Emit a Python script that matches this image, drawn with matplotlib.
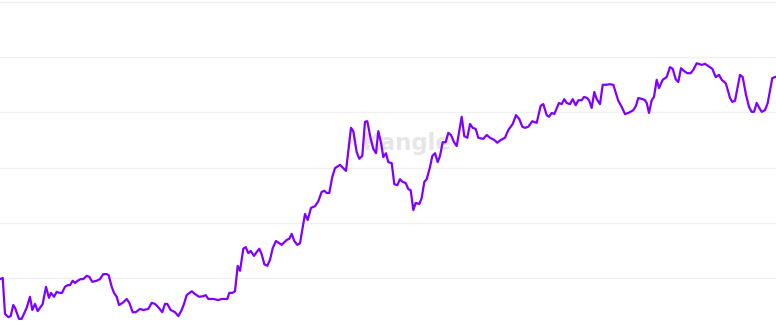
import matplotlib
matplotlib.use("Agg")
import matplotlib.pyplot as plt

# x positions (time axis, arbitrary units) and values
t = [0, 2.7, 5, 8.3, 10.7, 13.3, 15, 19, 21.7, 26.7, 30, 32.3, 35, 37.7, 42.7, 46, 49, 51, 54, 56.7,
     59.3, 62, 65, 67.7, 70, 72.7, 75, 77.7, 80.7, 83.3, 86.7, 89.3, 92.3, 96.7, 100, 103.3, 106.7, 108.7,
     111.7, 114, 116.7, 119, 122.7, 126.7, 129.3, 132.7, 135.7, 140, 143.3, 148.3, 151.7, 155, 158.3,
     162.3, 165, 167.3, 170.7, 175, 178.3, 181.7, 184, 186.7, 191.7, 195, 199, 203.3, 205.7, 208.3,
     213.3, 218.3, 221.7, 227.3, 229.3, 232.3, 235, 237.7, 240, 243.3, 245.7, 248.3, 250.7, 254, 256.7,
     259.3, 261.7, 264.3, 267.3, 270, 272.7, 276, 279.3, 281.7, 286.7, 289.3, 291.7, 294.3, 297.3, 300,
     305, 307.7, 311, 315, 318.3, 321.7, 324.3, 326.7, 329.3, 332.3, 335, 338.3, 340, 343.3, 346, 351,
     353.3, 356.7, 359.3, 362.3, 365, 367.3, 370.7, 373.3, 376, 378.3, 381, 383.3, 386, 388.3, 391.7,
     394.3, 397.3, 400, 402.7, 405.7, 408.3, 410.7, 413.3, 415.7, 419.3, 421.7, 424.3, 426.7, 430, 432.3,
     435, 437.7, 440, 442.7, 445.7, 448.3, 451, 454, 456.7, 461.7, 464.3, 467.3, 470, 472.7, 475.7, 478.3,
     483.3, 486.7, 490, 494.3, 497.3, 500.7, 505, 508.3, 512.7, 516, 519.3, 522.3, 525, 528.3, 532.3,
     536.7, 540.7, 543.3, 546.7, 549, 551.7, 554.3, 559, 561.7, 564.3, 566.7, 570, 572.7, 575.7, 578.3,
     581.7, 584, 587.3, 589.3, 591.7, 594.3, 596.7, 600, 602.7, 606, 610, 613.3, 618.3, 621.7, 625, 628.3,
     633.3, 636, 638.3, 642.7, 645, 646.7, 649, 651.7, 654, 656.7, 659, 662.7, 666.7, 670, 672.7, 675.7,
     678.3, 681, 684, 687.3, 690.7, 693.3, 696.7, 701.7, 705, 708.3, 712.3, 715.7, 719, 721.7, 725.7,
     727.7, 730, 732.3, 735, 740, 742.7, 746, 749, 751.7, 754, 756.7, 759.3, 761.7, 765, 767.7, 772.3, 775]

values = [98, 100, 35, 29, 31, 51, 46, 26, 26, 46, 66, 42, 53, 40, 53, 84, 64, 73, 66, 75,
          73, 73, 84, 87, 87, 95, 91, 95, 98, 98, 104, 102, 93, 95, 98, 107, 107, 105,
          84, 73, 66, 51, 55, 62, 55, 38, 38, 44, 42, 44, 55, 53, 47,
          38, 53, 53, 42, 38, 31, 42, 53, 69, 76, 71, 66, 67, 69, 62,
          62, 60, 62, 62, 73, 73, 76, 122, 113, 153, 156, 145, 149, 140, 147,
          153, 143, 125, 122, 133, 154, 167, 163, 160, 169, 171, 180, 167, 160, 163,
          216, 205, 227, 230, 239, 256, 258, 254, 254, 283, 299, 303, 305, 299, 294, 372,
          366, 328, 316, 321, 383, 384, 352, 334, 326, 366, 345, 319, 326, 310, 308,
          270, 268, 279, 274, 272, 261, 259, 223, 236, 234, 245, 274, 279, 301, 321,
          326, 310, 321, 346, 346, 363, 359, 346, 339, 392, 357, 354, 379, 372, 370, 354,
          352, 359, 354, 350, 345, 350, 354, 368, 379, 395, 388, 374, 372, 374, 384,
          381, 412, 415, 395, 392, 399, 397, 417, 415, 424, 417, 415, 424, 413, 422,
          422, 428, 426, 421, 408, 437, 424, 415, 450, 450, 451, 450, 421, 410, 397, 399,
          404, 412, 426, 424, 422, 417, 399, 422, 428, 459, 444, 459, 464, 482, 479, 460,
          455, 480, 475, 471, 471, 477, 489, 486, 488, 484, 479, 464, 468, 459, 453,
          441, 426, 419, 421, 468, 464, 432, 410, 401, 401, 417, 408, 401, 404, 417, 462, 464]

grid_levels = [100, 200, 300, 400, 500, 600]
watermark = "Kangle"

fig = plt.figure(figsize=(7.76, 3.27), dpi=100)
ax = fig.add_axes([0, 0, 1, 1])
ax.set_xlim(0, 776)
ax.set_ylim(11.2, 603.6)

for g in grid_levels:
    ax.axhline(g, color="#f0f0f3", lw=1.0, zorder=0)

ax.plot(t, values, color="#8000ff", lw=1.6, solid_joinstyle="round", zorder=3)

# watermark (logo + name), placed in axes fraction
ax.text(0.4525, 0.561, "\u2715", transform=ax.transAxes, fontsize=13, fontweight="bold",
        color="#e8e8e8", ha="center", va="center", zorder=1, family="DejaVu Sans")
ax.text(0.4675, 0.561, watermark, transform=ax.transAxes, fontsize=16.5, fontweight="bold",
        color="#e6e6e6", ha="left", va="center", zorder=1, family="DejaVu Sans")
ax.set_axis_off()
fig.savefig("out.png", dpi=100)
